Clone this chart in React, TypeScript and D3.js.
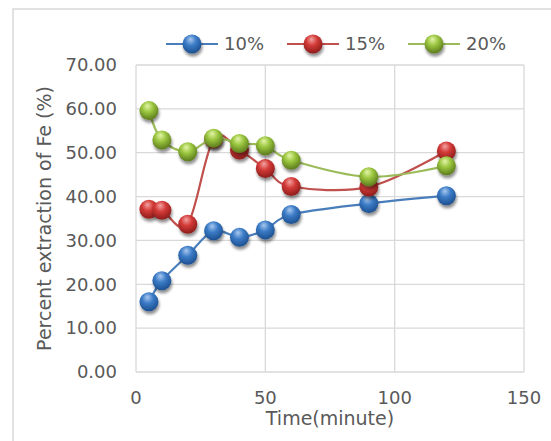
import React from "react";
import * as d3 from "d3";

// Sampling times (minutes)
const times = [5, 10, 20, 30, 40, 50, 60, 90, 120];

// Percent extraction of Fe for each concentration
const series10 = [16.0, 20.8, 26.6, 32.2, 30.7, 32.4, 35.9, 38.4, 40.2];
const series15 = [37.1, 36.9, 33.7, 53.1, 50.6, 46.4, 42.3, 42.2, 50.4];
const series20 = [59.6, 52.9, 50.2, 53.3, 52.1, 51.6, 48.3, 44.5, 47.0];

const seriesNames = ["10%", "15%", "20%"];
const xTicks = [0, 50, 100, 150];
const yTicks = [0, 10, 20, 30, 40, 50, 60, 70];

const palette = [
  { line: "#4a7ebb", light: "#a9c8ef", mid: "#3b7bc6", dark: "#1d4f8f" },
  { line: "#c0504d", light: "#f2a3a1", mid: "#d33a37", dark: "#8c1d1b" },
  { line: "#9bbb59", light: "#e3f5a8", mid: "#9ac53e", dark: "#5b7a1d" },
];

const W = 551;
const H = 441;
const FONT = "'DejaVu Sans', sans-serif";
const TEXT = "#595959";
const GRID = "#d9d9d9";

export default function App() {
  const x = d3.scaleLinear().domain([0, 150]).range([136, 524]);
  const y = d3.scaleLinear().domain([0, 70]).range([372, 65]);

  const allSeries = [series10, series15, series20];
  const line = d3
    .line<[number, number]>()
    .x((d) => x(d[0]))
    .y((d) => y(d[1]))
    .curve(d3.curveCardinal.tension(0));

  const legendX = [166, 287, 408];
  const legendY = 44;
  const r = 9.5;

  return (
    <svg
      width={W}
      height={H}
      style={{ position: "absolute", left: 0, top: 0, background: "#fff" }}
      fontFamily={FONT}
    >
      <defs>
        {palette.map((p, i) => (
          <radialGradient
            key={i}
            id={`ball${i}`}
            cx="0.45"
            cy="0.35"
            r="0.65"
            fx="0.42"
            fy="0.25"
          >
            <stop offset="0" stopColor={p.light} />
            <stop offset="0.45" stopColor={p.mid} />
            <stop offset="1" stopColor={p.dark} />
          </radialGradient>
        ))}
        <filter id="shadow" x="-50%" y="-50%" width="200%" height="200%">
          <feGaussianBlur in="SourceAlpha" stdDeviation="1.6" />
          <feOffset dx="1" dy="2.5" result="b" />
          <feComponentTransfer>
            <feFuncA type="linear" slope="0.45" />
          </feComponentTransfer>
          <feMerge>
            <feMergeNode />
            <feMergeNode in="SourceGraphic" />
          </feMerge>
        </filter>
      </defs>

      {/* chart area frame */}
      <rect x={13} y={9} width={W} height={H} fill="none" stroke={GRID} strokeWidth={1.5} />

      {/* gridlines */}
      {yTicks.map((t) => (
        <line key={`gy${t}`} x1={x(0)} x2={x(150)} y1={y(t)} y2={y(t)} stroke={GRID} strokeWidth={1.3} />
      ))}
      {xTicks.map((t) => (
        <line key={`gx${t}`} x1={x(t)} x2={x(t)} y1={y(0)} y2={y(70)} stroke={GRID} strokeWidth={1.3} />
      ))}

      {/* y tick labels */}
      {yTicks.map((t) => (
        <text key={`ly${t}`} x={117} y={y(t)} dy="0.35em" textAnchor="end" fontSize={18} fill={TEXT}>
          {t.toFixed(2)}
        </text>
      ))}
      {/* x tick labels */}
      {xTicks.map((t) => (
        <text key={`lx${t}`} x={x(t)} y={404} textAnchor="middle" fontSize={18} fill={TEXT}>
          {t}
        </text>
      ))}

      {/* axis titles */}
      <text x={x(75)} y={425} textAnchor="middle" fontSize={19} fill={TEXT}>
        Time(minute)
      </text>
      <text
        transform={`translate(51,${(y(0) + y(70)) / 2}) rotate(-90)`}
        textAnchor="middle"
        fontSize={19}
        fill={TEXT}
      >
        Percent extraction of Fe (%)
      </text>

      {/* series */}
      {allSeries.map((vals, i) => {
        const pts = times.map((t, k) => [t, vals[k]] as [number, number]);
        return (
          <g key={`s${i}`}>
            <path d={line(pts) || ""} fill="none" stroke={palette[i].line} strokeWidth={2.2} />
            {pts.map((p, k) => (
              <circle
                key={k}
                cx={x(p[0])}
                cy={y(p[1])}
                r={r}
                fill={`url(#ball${i})`}
                filter="url(#shadow)"
              />
            ))}
          </g>
        );
      })}

      {/* legend */}
      {seriesNames.map((name, i) => (
        <g key={`lg${i}`}>
          <line
            x1={legendX[i]}
            x2={legendX[i] + 52}
            y1={legendY}
            y2={legendY}
            stroke={palette[i].line}
            strokeWidth={2.2}
          />
          <circle cx={legendX[i] + 26} cy={legendY} r={r} fill={`url(#ball${i})`} filter="url(#shadow)" />
          <text x={legendX[i] + 58} y={legendY} dy="0.35em" fontSize={18} fill={TEXT}>
            {name}
          </text>
        </g>
      ))}
    </svg>
  );
}
